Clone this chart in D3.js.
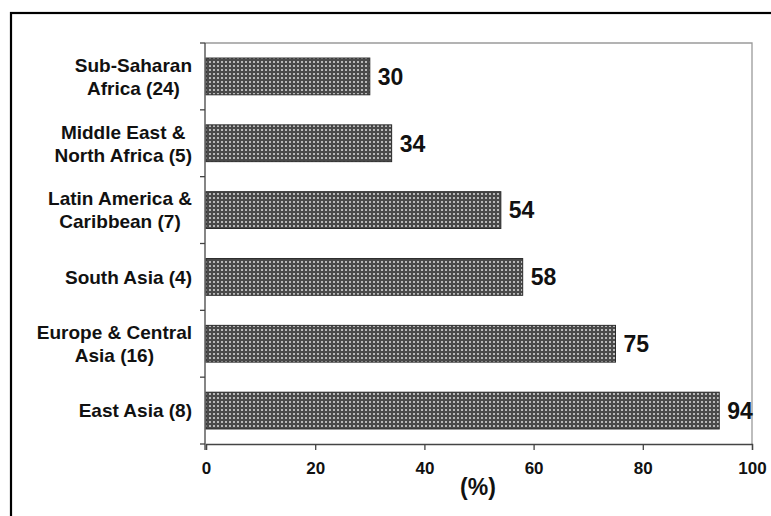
<!DOCTYPE html>
<html>
<head>
<meta charset="utf-8">
<script src="https://cdn.jsdelivr.net/npm/d3@7"></script>
<style>
  html, body { margin: 0; padding: 0; background: #fff; }
  svg { display: block; }
  text { font-family: "Liberation Sans", Arial, sans-serif; font-weight: bold; fill: #111; }
</style>
</head>
<body>
<svg id="chart" width="771" height="516"></svg>
<script>
// Regions (number of countries in parentheses), top to bottom
const regions = [
  ["Sub-Saharan", "Africa (24)"],
  ["Middle East &", "North Africa (5)"],
  ["Latin America &", "Caribbean (7)"],
  ["South Asia (4)"],
  ["Europe & Central", "Asia (16)"],
  ["East Asia (8)"]
];
const shares = [30, 34, 54, 58, 75, 94];
const xTicks = [0, 20, 40, 60, 80, 100];
const xTitle = "(%)";

const W = 771, H = 516;
const plot = { left: 205, right: 752, top: 43, bottom: 444 };

const svg = d3.select("#chart");

// Dotted fill for the bars
const defs = svg.append("defs");
const pat = defs.append("pattern")
  .attr("id", "dots")
  .attr("patternUnits", "userSpaceOnUse")
  .attr("width", 4).attr("height", 4);
pat.append("rect").attr("width", 4).attr("height", 4).attr("fill", "#4a4a4a");
pat.append("rect").attr("x", 1).attr("y", 1).attr("width", 2).attr("height", 2).attr("fill", "#b8b8b8");

// Outer frame
svg.append("rect")
  .attr("x", 11).attr("y", 13)
  .attr("width", W + 20).attr("height", H + 20)
  .attr("fill", "none").attr("stroke", "#000").attr("stroke-width", 2.2);

const ids = d3.range(regions.length);
const x = d3.scaleLinear().domain([0, 100]).range([plot.left + 1, plot.right]);
const y = d3.scaleBand().domain(ids).range([plot.top, plot.bottom]).paddingInner(0.45).paddingOuter(0.225);
const yBand = d3.scaleBand().domain(ids).range([plot.top, plot.bottom]);

// Plot area border (top and right)
svg.append("path")
  .attr("d", `M${plot.left},${plot.top}H${plot.right}V${plot.bottom}`)
  .attr("fill", "none").attr("stroke", "#9a9a9a").attr("stroke-width", 1.3);

// Bars
svg.append("g").selectAll("rect")
  .data(ids)
  .join("rect")
  .attr("x", x(0))
  .attr("y", i => y(i))
  .attr("width", i => x(shares[i]) - x(0))
  .attr("height", y.bandwidth())
  .attr("fill", "url(#dots)")
  .attr("stroke", "#2a2a2a").attr("stroke-width", 1);

// Value labels
svg.append("g").selectAll("text")
  .data(ids)
  .join("text")
  .attr("x", i => x(shares[i]) + 8)
  .attr("y", i => y(i) + y.bandwidth() / 2)
  .attr("dy", "0.36em")
  .attr("font-size", 23)
  .text(i => shares[i]);

// Category axis: line and ticks at band boundaries
const yAxisG = svg.append("g");
yAxisG.append("line")
  .attr("x1", plot.left).attr("x2", plot.left)
  .attr("y1", plot.top).attr("y2", plot.bottom + 6)
  .attr("stroke", "#444").attr("stroke-width", 1.3);
yAxisG.selectAll("line.tick")
  .data(d3.range(regions.length + 1))
  .join("line")
  .attr("class", "tick")
  .attr("x1", plot.left - 5).attr("x2", plot.left)
  .attr("y1", k => k < regions.length ? yBand(k) : plot.bottom)
  .attr("y2", k => k < regions.length ? yBand(k) : plot.bottom)
  .attr("stroke", "#444").attr("stroke-width", 1.3);

// Category labels: block right-aligned to the axis, lines centred within it
const labelRight = 192, lineH = 23, labelSize = 19;
const labels = svg.append("g");
ids.forEach(i => {
  const g = labels.append("g");
  const lines = regions[i];
  const cy = yBand(i) + yBand.bandwidth() / 2;
  const t = g.selectAll("text").data(lines).join("text")
    .attr("font-size", labelSize)
    .attr("text-anchor", "middle")
    .attr("y", (d, k) => cy + (k - (lines.length - 1) / 2) * lineH)
    .attr("dy", "0.36em")
    .text(d => d);
  const maxW = d3.max(t.nodes(), n => n.getComputedTextLength());
  t.attr("x", labelRight - maxW / 2);
});

// Value axis
const xAxis = d3.axisBottom(x).tickValues(xTicks).tickSize(6).tickPadding(12).tickFormat(d3.format("d"));
const xg = svg.append("g")
  .attr("transform", `translate(0,${plot.bottom})`)
  .call(xAxis);
xg.select(".domain").attr("stroke", "#444").attr("stroke-width", 1.3);
xg.selectAll(".tick line").attr("stroke", "#444").attr("stroke-width", 1.3);
xg.selectAll(".tick text")
  .attr("font-size", 17)
  .attr("font-family", "'Liberation Sans', Arial, sans-serif")
  .attr("font-weight", "bold")
  .attr("fill", "#111");

svg.append("text")
  .attr("x", 478).attr("y", 495)
  .attr("text-anchor", "middle")
  .attr("font-size", 23)
  .text(xTitle);
</script>
</body>
</html>
